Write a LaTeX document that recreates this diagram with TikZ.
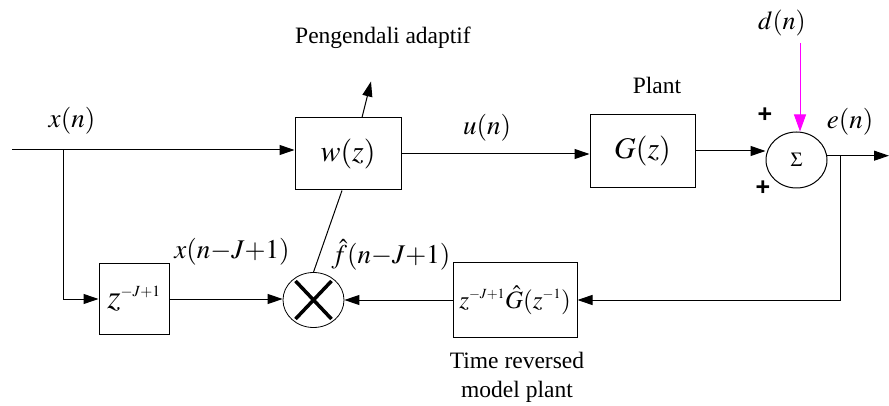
\documentclass[tikz,border=0pt]{standalone}
\usepackage{mathptmx}
\usepackage{fontspec}
\setmainfont{Liberation Serif}
\newfontfamily\tnr{Liberation Serif}
\newfontfamily\plusfont{Liberation Sans}
\usetikzlibrary{arrows.meta,calc,shapes.geometric}
\newcommand\myfs[1]{\fontsize{#1}{#1}\selectfont}
\newcommand\mysup[2]{^{\mbox{\myfs{#1}$#2$}}}
\begin{document}
\begin{tikzpicture}[x=1pt,y=-1pt,
  blk/.style={draw, line width=1pt, inner sep=0pt, fill=white},
  ln/.style={line width=1pt},
  arr/.style={line width=1pt, -{Triangle[length=15pt,width=10pt]}},
  magarr/.style={line width=1pt, draw={rgb,255:red,255;green,0;blue,255}, -{Triangle[length=17pt,width=12pt]}},
  lbl/.style={inner sep=0pt}]
\useasboundingbox (0,0) rectangle (889,406);

% blocks
\node[blk, minimum width=106pt, minimum height=72pt] (w) at (348,154) {\myfs{30}$w(z)$};
\node[blk, minimum width=105pt, minimum height=73pt] (G) at (642.5,151) {\myfs{30}$G(z)$};
\node[blk, ellipse, minimum width=61pt, minimum height=56pt] (sum) at (796.5,160) {\myfs{20}$\Sigma$};
\node[blk, minimum width=70pt, minimum height=71pt] (zb) at (134,299) {\myfs{34}$z\mysup{15.5}{{-}J{+}1}$};
\node[blk, ellipse, line width=0.8pt, minimum width=61pt, minimum height=55pt] (mult) at (313.5,300) {};
\draw[line width=3.5pt] ($(mult.center)+(-18,-19)$) -- ($(mult.center)+(18,19)$);
\draw[line width=3.5pt] ($(mult.center)+(-18,19)$) -- ($(mult.center)+(18,-19)$);
\node[blk, minimum width=124pt, minimum height=74pt] (Gh) at (515,300) {\myfs{25}$z\mysup{14}{{-}J{+}1}\hat{G}(z\mysup{14}{{-}1})$};

% coordinates
\coordinate (start) at (12,150);
\coordinate (bl) at (63,150);
\coordinate (eout) at (889,156);
\coordinate (brx) at (840,156);
\coordinate (dtop) at (800,43);

% connectors
\draw[arr] (start) -- (start -| w.west);
\draw[arr] (bl) |- (zb.west);
\draw[arr] (w.east) -- (G.west |- w.east);
\draw[arr] (G.east) -- (G.east -| sum.west);
\draw[arr] (sum.8) -- (sum.8 -| eout);
\draw[arr] (sum.8 -| brx) |- (Gh.east);
\draw[arr] (Gh.west) -- (mult.east);
\draw[arr] (zb.east) -- (zb.east -| mult.west);
\draw[ln] (mult.north) -- ($(w.south)+(-6,0)$);
\draw[arr] ($(w.north)+(14,0)$) -- ($(w.north)+(23,-36)$);
\draw[magarr] (dtop) -- (dtop |- sum.north);

% labels
\node[lbl] (tadapt) at (383,38) {\tnr\myfs{23.5}Pengendali adaptif};
\node[lbl] (lx) at (72,121) {\myfs{27}$x(n)$};
\node[lbl] (lu) at (487,128) {\myfs{27}$u(n)$};
\node[lbl] (lplant) at (657,85) {\tnr\myfs{23.5}Plant};
\node[lbl] (ld) at (782,23) {\myfs{26}$d(n)$};
\node[lbl] (p1) at (765,115) {\plusfont\bfseries\myfs{25}+};
\node[lbl] (p2) at (763,188) {\plusfont\bfseries\myfs{25}+};
\node[lbl] (le) at (850,122) {\myfs{27}$e(n)$};
\node[lbl] (lxj) at (232,252) {\myfs{27}$x(n{-}J{+}1)$};
\node[lbl] (lf) at (391,255) {\myfs{27}$\hat{f}(n{-}J{+}1)$};
\node[lbl] (lt1) at (517,360) {\tnr\myfs{23.5}Time reversed};
\node[lbl] (lt2) at (517,392) {\tnr\myfs{23.5}model plant};
\end{tikzpicture}
\end{document}
